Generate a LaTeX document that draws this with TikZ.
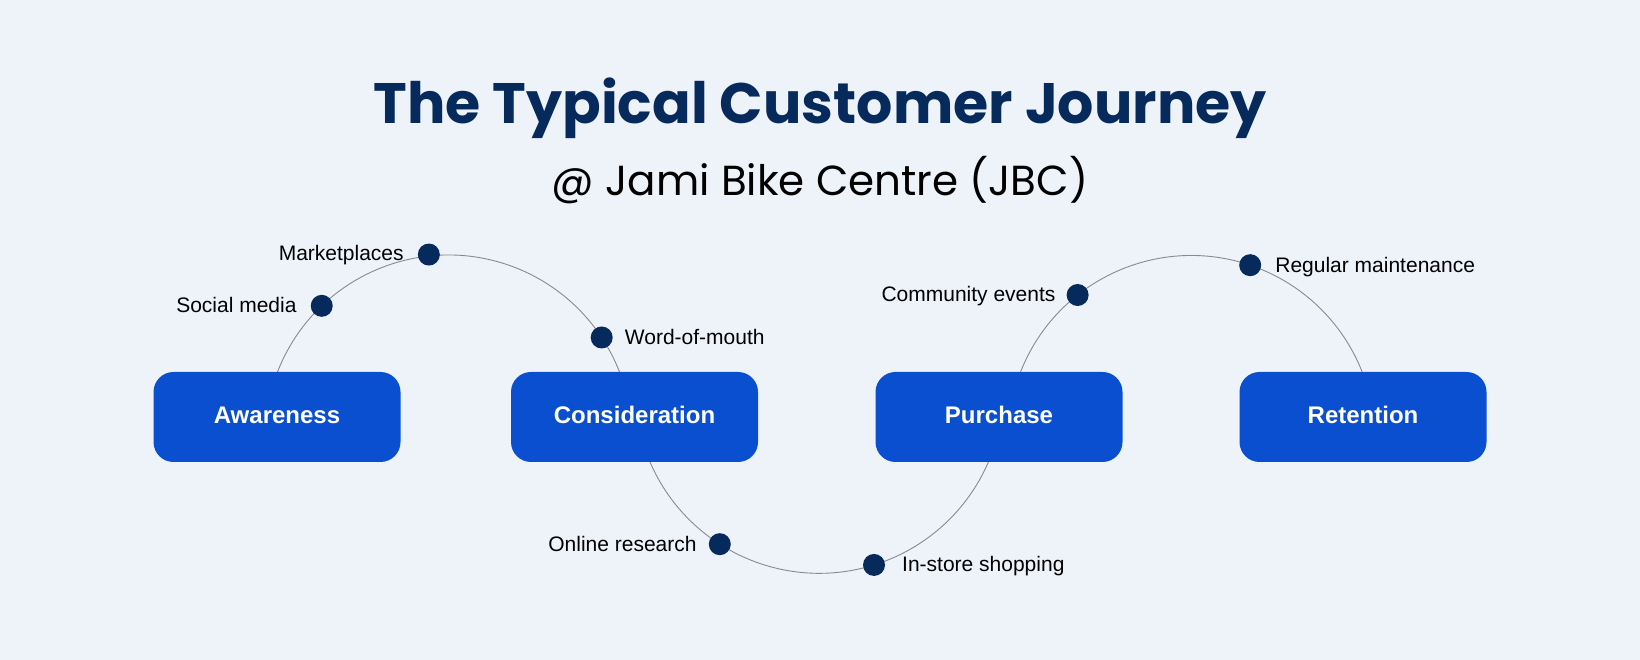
\documentclass[tikz,border=0pt]{standalone}
\usepackage{fontspec}
\setmainfont{Liberation Sans}
\newfontfamily\titlefont{Poppins}
\usetikzlibrary{calc}
\definecolor{bg}{HTML}{EEF3FA}
\definecolor{boxblue}{HTML}{0A4FD0}
\definecolor{navy}{HTML}{062A5C}
\definecolor{arcgray}{HTML}{8A8A8A}
\begin{document}
\begin{tikzpicture}[x=1pt,y=1pt,
  stage/.style={fill=boxblue, rounded corners=20pt, minimum width=247pt, minimum height=90pt, inner sep=0pt, text height=17.5pt, text depth=5pt, text=white, font=\fontsize{24}{28}\selectfont\bfseries},
  dotnode/.style={circle, fill=navy, minimum size=22pt, inner sep=0pt},
  lab/.style={inner sep=0pt, font=\fontsize{21}{25}\selectfont, text=black},
  arcline/.style={draw=arcgray, line width=0.9pt}]
\fill[bg] (0,0) rectangle (1640,660);
\useasboundingbox (0,0) rectangle (1640,660);
\node[font=\titlefont\bfseries\fontsize{57}{66}\selectfont, text=navy, anchor=base, inner sep=0pt] (title) at (820,536.7) {The Typical Customer Journey};
\node[font=\titlefont\fontsize{42}{50}\selectfont, text=black, anchor=base, inner sep=0pt] (sub) at (820,464) {@ Jami Bike Centre (JBC)};
% arc centres
\coordinate (c1) at (448.5,221.5);
\coordinate (c2) at (819.2,271);
\coordinate (c3) at (1191.35,221);
\coordinate (a1s) at ($(c1)+(158.75:183.5)$);
\coordinate (a2s) at ($(c2)+(203.3:184.3)$);
\coordinate (a3s) at ($(c3)+(158.65:183.5)$);
\draw[arcline] (a1s) arc[start angle=158.75, end angle=21.25, radius=183.5];
\draw[arcline] (a2s) arc[start angle=203.3, end angle=336.7, radius=184.3];
\draw[arcline] (a3s) arc[start angle=158.65, end angle=21.35, radius=183.5];
% stages
\node[stage] (aw) at (277,243) {Awareness};
\node[stage] (co) at (634.5,243) {Consideration};
\node[stage] (pu) at (999,243) {Purchase};
\node[stage] (re) at (1363,243) {Retention};
% touchpoints
\node[dotnode] (dmk) at ($(c1)+(96.1:185)$) {};
\node[dotnode] (dsm) at ($(c1)+(133.7:183.5)$) {};
\node[dotnode] (dwm) at ($(c1)+(33.4:183.5)$) {};
\node[dotnode] (dor) at ($(c2)+(237.35:184.3)$) {};
\node[dotnode] (dis) at ($(c2)+(287.3:184.3)$) {};
\node[dotnode] (dce) at ($(c3)+(128.3:183.5)$) {};
\node[dotnode] (drm) at ($(c3)+(71.3:183.5)$) {};
\node[lab, anchor=base east] (lmk) at ($(dmk)+(-25,-6)$) {Marketplaces};
\node[lab, anchor=base east] (lsm) at ($(dsm)+(-25,-7)$) {Social media};
\node[lab, anchor=base west] (lwm) at ($(dwm)+(23,-7)$) {Word-of-mouth};
\node[lab, anchor=base east] (lor) at ($(dor)+(-23,-7)$) {Online research};
\node[lab, anchor=base west] (lis) at ($(dis)+(28,-7)$) {In-store shopping};
\node[lab, anchor=base east] (lce) at ($(dce)+(-22,-7)$) {Community events};
\node[lab, anchor=base west] (lrm) at ($(drm)+(25,-7)$) {Regular maintenance};
\end{tikzpicture}
\end{document}
